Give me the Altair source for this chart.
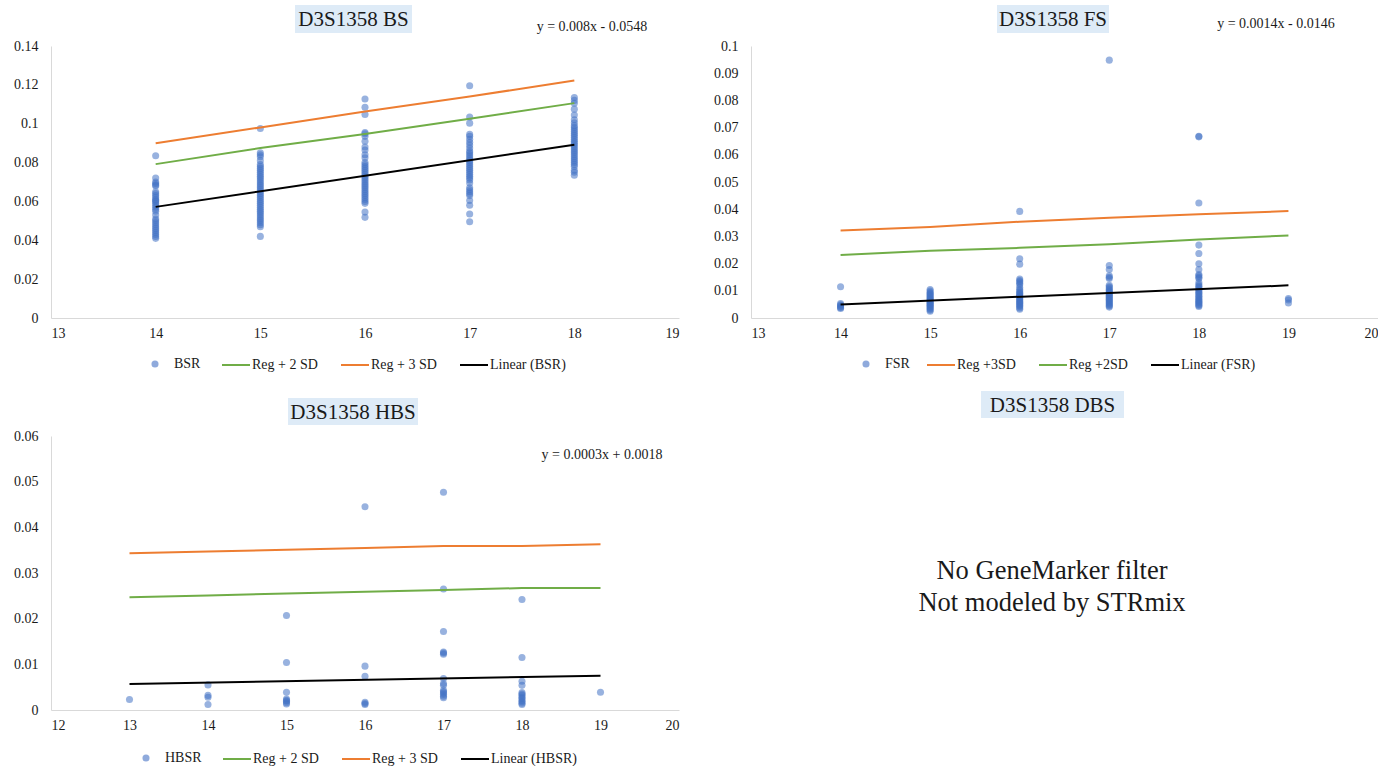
import altair as alt
import pandas as pd

FONT = "Liberation Serif"
POINT_BLUE = "#4472C4"
REG2_GREEN = "#70AD47"
REG3_ORANGE = "#ED7D31"
TREND_BLACK = "#000000"
TITLE_FILL = "#DEEBF7"
TEXT_DARK = "#1a1a1a"

# ---------------- D3S1358 back stutter (BS) ----------------
BSR_14 = [0.0835, 0.072, 0.0700, 0.0692, 0.0685, 0.068, 0.065, 0.064, 0.063, 0.062,
          0.061, 0.0605, 0.060, 0.059, 0.058, 0.057, 0.056, 0.055, 0.053, 0.051,
          0.050, 0.049, 0.048, 0.047, 0.046, 0.045, 0.044, 0.043, 0.042, 0.041]
BSR_15 = [0.0975, 0.085, 0.084, 0.083, 0.081, 0.079, 0.078, 0.077, 0.076, 0.075,
          0.074, 0.073, 0.072, 0.071, 0.070, 0.069, 0.068, 0.067, 0.066, 0.065,
          0.064, 0.063, 0.062, 0.061, 0.060, 0.059, 0.058, 0.057, 0.056, 0.055,
          0.054, 0.053, 0.052, 0.051, 0.050, 0.049, 0.048, 0.047, 0.042]
BSR_16 = [0.1127, 0.1085, 0.1048, 0.0955, 0.0948, 0.0935, 0.091, 0.088, 0.0865, 0.084,
          0.0825, 0.080, 0.079, 0.078, 0.077, 0.076, 0.075, 0.074, 0.073, 0.072,
          0.071, 0.070, 0.069, 0.068, 0.067, 0.066, 0.065, 0.064, 0.063, 0.062,
          0.061, 0.060, 0.059, 0.0545, 0.0518]
BSR_17 = [0.1195, 0.1035, 0.1003, 0.0945, 0.0935, 0.092, 0.0905, 0.089, 0.0875, 0.086,
          0.085, 0.084, 0.083, 0.082, 0.081, 0.080, 0.079, 0.078, 0.077, 0.076,
          0.075, 0.074, 0.073, 0.072, 0.071, 0.0695, 0.067, 0.066, 0.065, 0.064,
          0.063, 0.0605, 0.058, 0.0535, 0.0495]
BSR_18 = [0.1135, 0.112, 0.1105, 0.1075, 0.1045, 0.102, 0.1005, 0.099, 0.098, 0.097,
          0.096, 0.095, 0.094, 0.093, 0.092, 0.091, 0.090, 0.089, 0.088, 0.087,
          0.086, 0.085, 0.084, 0.083, 0.082, 0.081, 0.080, 0.079, 0.078, 0.076,
          0.075, 0.0735]
BS_ALLELES = [14, 15, 16, 17, 18]
BS_REG2 = [0.0792, 0.0875, 0.0947, 0.1026, 0.1106]
BS_REG3 = [0.0899, 0.0981, 0.1063, 0.1140, 0.1222]
BS_SLOPE, BS_INTERCEPT = 0.008, -0.0548

# ---------------- D3S1358 forward stutter (FS) ----------------
FSR_14 = [0.0115, 0.0053, 0.0049, 0.0045, 0.0041, 0.0038, 0.0035]
FSR_15 = [0.0105, 0.0099, 0.0094, 0.0090, 0.0086, 0.0082, 0.0078, 0.0074, 0.0070, 0.0067,
          0.0064, 0.0060, 0.0057, 0.0054, 0.0050, 0.0047, 0.0044, 0.0040, 0.0037, 0.0033,
          0.0029, 0.0025]
FSR_16 = [0.0392, 0.0218, 0.0198, 0.0143, 0.0138, 0.0133, 0.0128, 0.0122, 0.0112, 0.0105,
          0.0099, 0.0094, 0.0090, 0.0086, 0.0082, 0.0078, 0.0074, 0.0070, 0.0066, 0.0062,
          0.0058, 0.0054, 0.0050, 0.0046, 0.0042, 0.0037, 0.0032]
FSR_17 = [0.0948, 0.0193, 0.0178, 0.0155, 0.0150, 0.0145, 0.0120, 0.0115, 0.0110, 0.0105,
          0.0100, 0.0096, 0.0092, 0.0088, 0.0084, 0.0080, 0.0076, 0.0072, 0.0068, 0.0064,
          0.0060, 0.0056, 0.0052, 0.0048, 0.0044, 0.0040]
FSR_18 = [0.0668, 0.0666, 0.0423, 0.0268, 0.0237, 0.0199, 0.0178, 0.0160, 0.0155, 0.0150,
          0.0145, 0.0130, 0.0122, 0.0117, 0.0112, 0.0106, 0.0100, 0.0095, 0.0090, 0.0085,
          0.0080, 0.0075, 0.0070, 0.0066, 0.0062, 0.0058, 0.0054, 0.0050, 0.0046, 0.0042]
FSR_19 = [0.0072, 0.0066, 0.0055]
FS_ALLELES = [14, 15, 16, 17, 18, 19]
FS_REG3 = [0.0322, 0.0335, 0.0354, 0.0369, 0.0381, 0.0393]
FS_REG2 = [0.0232, 0.0247, 0.0258, 0.0271, 0.0289, 0.0303]
FS_SLOPE, FS_INTERCEPT = 0.0014, -0.0146

# ---------------- D3S1358 half back stutter (HBS) ----------------
HBSR_13 = [0.0023]
HBSR_14 = [0.0055, 0.0032, 0.0028, 0.0012]
HBSR_15 = [0.0207, 0.0104, 0.0039, 0.0024, 0.0021, 0.0019, 0.0016, 0.0013]
HBSR_16 = [0.0445, 0.0096, 0.0074, 0.0017, 0.0014, 0.0012]
HBSR_17 = [0.0477, 0.0265, 0.0172, 0.0127, 0.0125, 0.0122, 0.0069, 0.0058, 0.0054, 0.0043,
           0.0040, 0.0037, 0.0034, 0.0030, 0.0027]
HBSR_18 = [0.0242, 0.0115, 0.0063, 0.0054, 0.0038, 0.0035, 0.0032, 0.0028, 0.0025, 0.0021,
           0.0018, 0.0015, 0.0012]
HBSR_19 = [0.0039]
HBS_ALLELES = [13, 14, 15, 16, 17, 18, 19]
HBS_REG2 = [0.0247, 0.0251, 0.0255, 0.0259, 0.0263, 0.0267, 0.0267]
HBS_REG3 = [0.0343, 0.0347, 0.0351, 0.0355, 0.0359, 0.0359, 0.0363]
HBS_SLOPE, HBS_INTERCEPT = 0.0003, 0.0018


def points_frame(by_allele, name):
    rows = [(a, v, name) for a, vals in by_allele.items() for v in vals]
    return pd.DataFrame(rows, columns=["allele", "ratio", "kind"])


def lines_frame(alleles, reg2, reg3, slope, intercept, names):
    reg2_name, reg3_name, trend_name = names
    rows = [(a, v, reg2_name) for a, v in zip(alleles, reg2)]
    rows += [(a, v, reg3_name) for a, v in zip(alleles, reg3)]
    for a in (alleles[0], alleles[-1]):
        rows.append((a, slope * a + intercept, trend_name))
    return pd.DataFrame(rows, columns=["allele", "ratio", "series"])


def single(text):
    return pd.DataFrame({"t": [text]})


def title_layers(title, box):
    x0, x1, y0, y1 = box
    rect = alt.Chart(single(title)).mark_rect(color=TITLE_FILL).encode(
        x=alt.value(x0), x2=alt.value(x1), y=alt.value(y0), y2=alt.value(y1))
    txt = alt.Chart(single(title)).mark_text(
        font=FONT, fontSize=21, color=TEXT_DARK, align="center", baseline="middle"
    ).encode(text="t:N", x=alt.value((x0 + x1) / 2), y=alt.value((y0 + y1) / 2 + 1))
    return [rect, txt]


def stutter_panel(point_name, by_allele, lines_df, line_order, line_colors,
                  x_dom, y_top, y_step, point_legend_x, line_legend_x, legend_y,
                  equation, eq_xy, title, title_box):
    n_steps = int(round(y_top / y_step))
    y_ticks = [round(i * y_step, 4) for i in range(n_steps + 1)]
    x_ticks = list(range(x_dom[0], x_dom[1] + 1))

    x_enc = alt.X("allele:Q", title=None,
                  scale=alt.Scale(domain=x_dom, nice=False, zero=False, padding=0),
                  axis=alt.Axis(values=x_ticks, format="~g"))
    y_enc = alt.Y("ratio:Q", title=None,
                  scale=alt.Scale(domain=[0, y_top], nice=False, padding=0),
                  axis=alt.Axis(values=y_ticks, format="~g"))

    legend_common = dict(orient="none", direction="horizontal",
                         title=None, labelFont=FONT, labelFontSize=14,
                         labelColor=TEXT_DARK, padding=0)

    pts = alt.Chart(points_frame(by_allele, point_name)).mark_point(
        filled=True, size=50, color=POINT_BLUE, opacity=0.55, strokeWidth=0
    ).encode(
        x=x_enc, y=y_enc,
        shape=alt.Shape("kind:N",
                        scale=alt.Scale(domain=[point_name], range=["circle"]),
                        legend=alt.Legend(legendX=point_legend_x, legendY=legend_y + 7,
                                          symbolSize=50, symbolFillColor=POINT_BLUE,
                                          symbolOpacity=0.6, symbolStrokeWidth=0,
                                          labelOffset=12, **legend_common)),
    )

    lines = alt.Chart(lines_df).mark_line(strokeWidth=2).encode(
        x=x_enc, y=y_enc,
        color=alt.Color("series:N",
                        scale=alt.Scale(domain=line_order, range=line_colors),
                        legend=alt.Legend(legendX=line_legend_x, legendY=legend_y,
                                          symbolType="stroke",
                                          symbolSize=784, symbolStrokeWidth=2,
                                          columnPadding=19, labelOffset=1,
                                          **legend_common)),
    )

    eq = alt.Chart(single(equation)).mark_text(
        font=FONT, fontSize=14, color=TEXT_DARK, align="center", baseline="middle"
    ).encode(text="t:N", x=alt.value(eq_xy[0]), y=alt.value(eq_xy[1]))

    return title_layers(title, title_box) + [eq, pts, lines]


# Top-left: back stutter
bs_chart = alt.layer(*stutter_panel(
    "BSR", {14: BSR_14, 15: BSR_15, 16: BSR_16, 17: BSR_17, 18: BSR_18},
    lines_frame(BS_ALLELES, BS_REG2, BS_REG3, BS_SLOPE, BS_INTERCEPT,
                ("Reg + 2 SD", "Reg + 3 SD", "Linear (BSR)")),
    ["Reg + 2 SD", "Reg + 3 SD", "Linear (BSR)"],
    [REG2_GREEN, REG3_ORANGE, TREND_BLACK],
    [13, 19], 0.14, 0.02, 97, 170, 304,
    "y = 0.008x  - 0.0548", (541, -19), "D3S1358 BS", (244, 361, -41, -13),
)).properties(width=628, height=272)

# Top-right: forward stutter
fs_chart = alt.layer(*stutter_panel(
    "FSR", {14: FSR_14, 15: FSR_15, 16: FSR_16, 17: FSR_17, 18: FSR_18, 19: FSR_19},
    lines_frame(FS_ALLELES, FS_REG2, FS_REG3, FS_SLOPE, FS_INTERCEPT,
                ("Reg +2SD", "Reg +3SD", "Linear (FSR)")),
    ["Reg +3SD", "Reg +2SD", "Linear (FSR)"],
    [REG3_ORANGE, REG2_GREEN, TREND_BLACK],
    [13, 20], 0.1, 0.01, 108, 175, 304,
    "y = 0.0014x  - 0.0146", (525, -22), "D3S1358 FS", (246, 358, -41, -13),
)).properties(width=627, height=272)

# Bottom-left: half back stutter, with the unmodelled DBS note beside it
hbs_layers = stutter_panel(
    "HBSR", {13: HBSR_13, 14: HBSR_14, 15: HBSR_15, 16: HBSR_16, 17: HBSR_17,
             18: HBSR_18, 19: HBSR_19},
    lines_frame(HBS_ALLELES, HBS_REG2, HBS_REG3, HBS_SLOPE, HBS_INTERCEPT,
                ("Reg + 2 SD", "Reg + 3 SD", "Linear (HBSR)")),
    ["Reg + 2 SD", "Reg + 3 SD", "Linear (HBSR)"],
    [REG2_GREEN, REG3_ORANGE, TREND_BLACK],
    [12, 20], 0.06, 0.01, 88, 171, 308,
    "y = 0.0003x + 0.0018", (551, 19), "D3S1358 HBS", (237, 367, -38, -11),
)
dbs_layers = title_layers("D3S1358 DBS", (930, 1073, -45, -18))
dbs_note = alt.Chart(single("No GeneMarker filter\nNot modeled by STRmix")).mark_text(
    font=FONT, fontSize=26.5, color=TEXT_DARK, align="center", baseline="middle",
    lineBreak="\n", lineHeight=32,
).encode(text="t:N", x=alt.value(1001), y=alt.value(135))
hbs_chart = alt.layer(*(hbs_layers + dbs_layers + [dbs_note])).properties(width=628, height=274)

top_row = alt.hconcat(bs_chart, fs_chart, spacing=34).resolve_scale(
    color="independent", shape="independent")

chart = (
    alt.vconcat(top_row, hbs_chart, spacing=19)
    .resolve_scale(color="independent", shape="independent")
    .properties(padding={"left": 13, "top": 5, "right": 0, "bottom": 0}, background="white")
    .configure_view(stroke=None)
    .configure_axis(labelFont=FONT, labelFontSize=14, labelColor=TEXT_DARK,
                    domainColor="#d9d9d9", domainWidth=1, ticks=False, grid=False)
    .configure_axisX(labelPadding=8)
    .configure_axisY(labelPadding=13)
)

chart.save("out.html", embed_options={"renderer": "svg", "actions": False})
